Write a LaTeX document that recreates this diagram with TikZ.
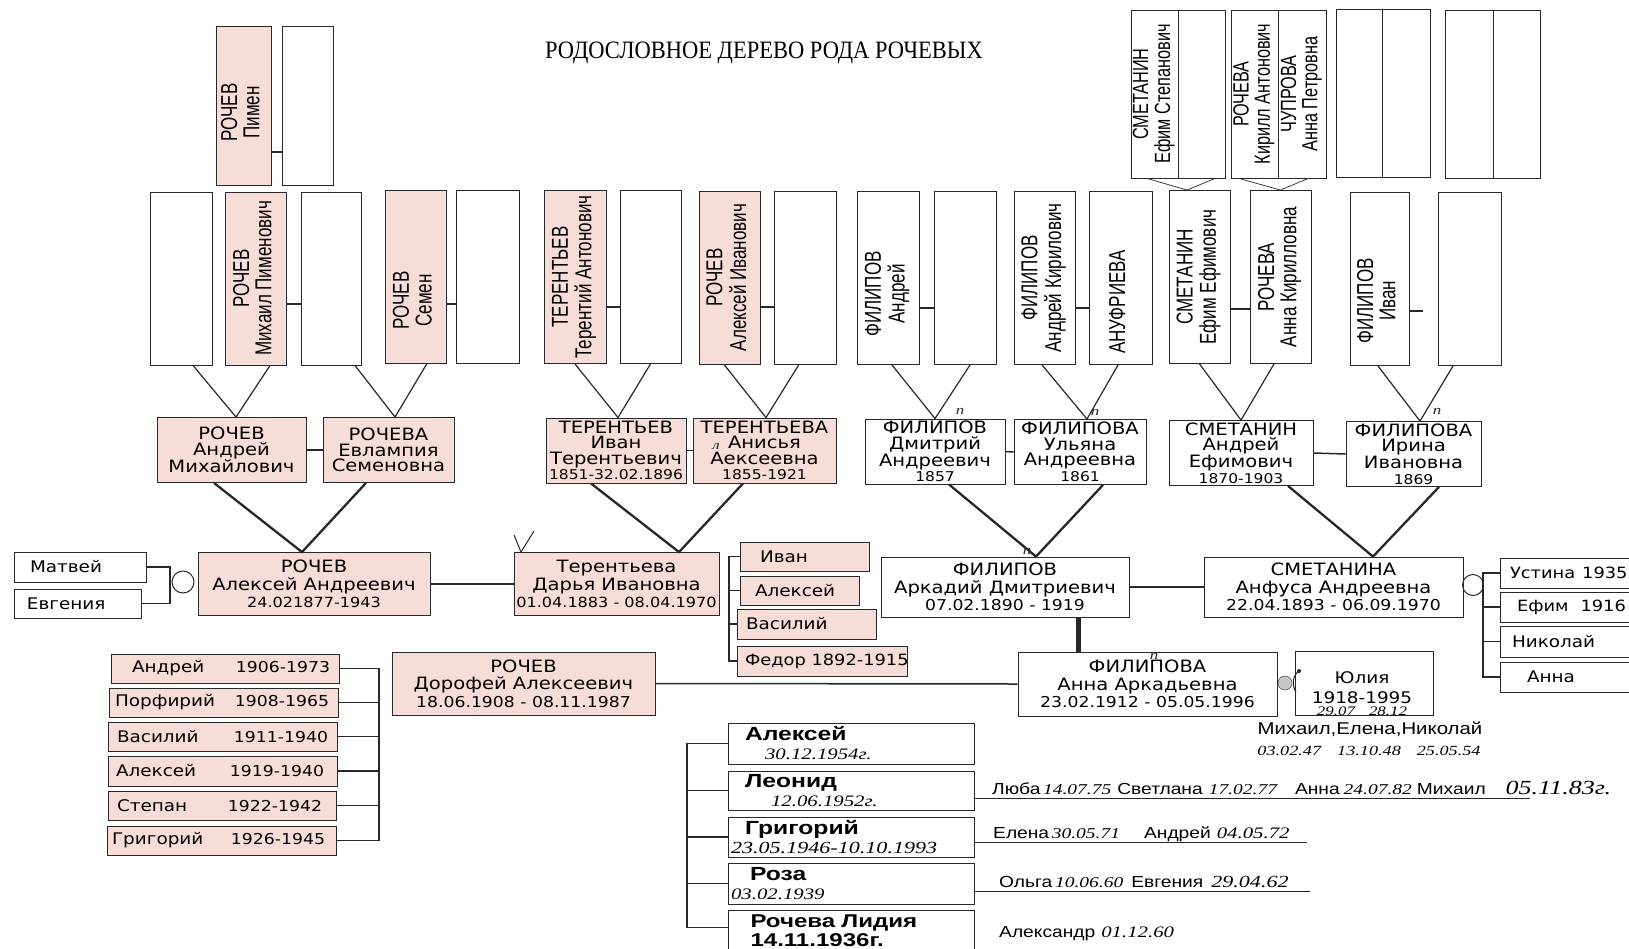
\documentclass[tikz,border=0pt]{standalone}
\usepackage{fontspec}
\usepackage{graphicx}
\usetikzlibrary{positioning,calc}
\setmainfont{DejaVu Sans}
\newfontfamily\verd[FakeStretch=1.15]{DejaVu Sans}
\newfontfamily\nar[FakeStretch=0.74]{Liberation Sans}
\newfontfamily\arl[FakeStretch=1.2]{Liberation Sans}
\newfontfamily\wideb[FakeStretch=1.3]{Liberation Sans}
\newfontfamily\hand[FakeStretch=1.3]{Liberation Serif}
\newfontfamily\titlef[FakeStretch=0.9]{Liberation Serif}
\definecolor{rosefill}{RGB}{247,221,215}
\definecolor{inkline}{RGB}{40,40,40}
\newcommand{\fsz}[2]{\fontsize{#1}{#2}\selectfont}
\newcommand{\vtext}[2][0pt]{\rotatebox{90}{\begin{tabular}{@{}c@{}}#2\end{tabular}\hspace*{#1}}}
\newcommand{\hw}[1]{{\hand\mdseries\itshape #1}}
\newcommand{\rowtext}[3]{\makebox[#1][l]{\hspace*{#2}#3}}

\begin{document}
\begin{tikzpicture}[x=1pt,y=-1pt,
  every node/.style={align=center,inner sep=0pt},
  cell/.style={draw=inkline,line width=0.9pt},
  rose/.style={fill=rosefill},
  tallbox/.style={cell,minimum height=173pt,font=\nar\fsz{23}{22}},
  topbox/.style={cell,minimum height=168pt,font=\nar\fsz{22}{20}},
  gen/.style={cell,minimum height=65pt,font=\verd\fsz{17}{15.5}},
  person/.style={cell,minimum height=63pt,font=\verd\fsz{17}{17.5}},
  kid/.style={cell,rose,font=\verd\fsz{16}{16}},
  grandkid/.style={cell,minimum width=246pt,text width=240pt,inner xsep=3pt,align=left,font=\wideb\bfseries\fsz{19}{19}},
  wire/.style={draw=inkline,line width=1.5pt},
  vee/.style={draw=inkline,line width=1.2pt},
  thinvee/.style={draw=inkline,line width=0.7pt},
  bigvee/.style={draw=inkline,line width=2.3pt},
  pencil/.style={font=\hand\itshape\fsz{13}{13},text=inkline}]

  \useasboundingbox (0,0) rectangle (1629,948);
  \fill[white] (0,0) rectangle (1629,948);
  \clip (0,0) rectangle (1629,948);

  \node[font=\titlef\fsz{25}{26}] (title) at (764,53) {РОДОСЛОВНОЕ ДЕРЕВО РОДА РОЧЕВЫХ};

  % первое колено
  \node[tallbox,rose,minimum width=55pt,minimum height=159pt] (pimen) at (243.5,105.5) {\vtext[14pt]{РОЧЕВ\\Пимен}};
  \node[tallbox,minimum width=51pt,minimum height=159pt] (pimenw) at (307.5,105.5) {};
  \node[topbox,minimum width=47pt] (t1a) at (1154.5,94) {\vtext{СМЕТАНИН\\Ефим Степанович}};
  \node[topbox,minimum width=47pt] (t1b) at (1201.5,94) {};
  \node[topbox,minimum width=47pt] (t2a) at (1254.5,94) {\vtext{РОЧЕВА\\Кирилл Антонович}};
  \node[topbox,minimum width=48pt] (t2b) at (1302,94) {\vtext{ЧУПРОВА\\Анна Петровна}};
  \node[topbox,minimum width=46pt] (t3a) at (1359,93) {};
  \node[topbox,minimum width=48pt] (t3b) at (1406,93) {};
  \node[topbox,minimum width=48pt] (t4a) at (1469,94) {};
  \node[topbox,minimum width=47pt] (t4b) at (1516.5,94) {};

  % второе колено
  \node[tallbox,minimum width=62pt] (g1) at (181,278.5) {};
  \node[tallbox,rose,minimum width=61pt] (g2) at (255.5,278.5) {\vtext{РОЧЕВ\\Михаил Пименович}};
  \node[tallbox,minimum width=60pt] (g3) at (331,278.5) {};
  \node[tallbox,rose,minimum width=61pt] (g4) at (415.5,276.5) {\vtext[48pt]{РОЧЕВ\\Семен}};
  \node[tallbox,minimum width=63pt] (g5) at (487.5,276.5) {};
  \node[tallbox,rose,minimum width=62pt] (g6) at (575,277) {\vtext{ТЕРЕНТЬЕВ\\Терентий Антонович}};
  \node[tallbox,minimum width=61pt] (g7) at (650.5,277) {};
  \node[tallbox,rose,minimum width=61pt] (g8) at (729.5,277.5) {\vtext{РОЧЕВ\\Алексей Иванович}};
  \node[tallbox,minimum width=62pt] (g9) at (805,277.5) {};
  \node[tallbox,minimum width=62pt] (g10) at (888,278) {\vtext[32pt]{ФИЛИПОВ\\Андрей}};
  \node[tallbox,minimum width=62pt] (g11) at (965,278) {};
  \node[tallbox,minimum width=61pt] (g12) at (1044.5,278) {\vtext{ФИЛИПОВ\\Андрей Кирилович}};
  \node[tallbox,minimum width=63pt] (g13) at (1120.5,278) {\vtext[48pt]{АНУФРИЕВА}};
  \node[tallbox,minimum width=61pt] (g14) at (1199.5,277) {\vtext{СМЕТАНИН\\Ефим Ефимович}};
  \node[tallbox,minimum width=61pt] (g15) at (1280.5,277) {\vtext{РОЧЕВА\\Анна Кирилловна}};
  \node[tallbox,minimum width=59pt] (g16) at (1379.5,279) {\vtext[44pt]{ФИЛИПОВ\\Иван}};
  \node[tallbox,minimum width=63pt] (g17) at (1469.5,279) {};
  \coordinate (g16end) at (1423,311);

  % третье колено
  \node[gen,rose,minimum width=149pt] (h1) at (231.5,450) {РОЧЕВ\\Андрей\\Михайлович};
  \node[gen,rose,minimum width=131pt] (h2) at (388.5,450) {РОЧЕВА\\Евлампия\\Семеновна};
  \node[gen,rose,minimum width=140pt] (h3) at (616,450.5) {ТЕРЕНТЬЕВ\\Иван\\Терентьевич\\{\fsz{13.5}{13.5}1851-32.02.1896}};
  \node[gen,rose,minimum width=143pt] (h4) at (764.5,450.5) {ТЕРЕНТЬЕВА\\Анисья\\Аексеевна\\{\fsz{13.5}{13.5}1855-1921}};
  \node[gen,minimum width=140pt] (h5) at (935,451.5) {ФИЛИПОВ\\Дмитрий\\Андреевич\\{\fsz{13.5}{13.5}1857}};
  \node[gen,minimum width=132pt] (h6) at (1080,452) {ФИЛИПОВА\\Ульяна\\Андреевна\\{\fsz{13.5}{13.5}1861}};
  \node[gen,minimum width=144pt] (h7) at (1241,453) {СМЕТАНИН\\Андрей\\Ефимович\\{\fsz{13.5}{13.5}1870-1903}};
  \node[gen,minimum width=135pt] (h8) at (1413.5,454) {ФИЛИПОВА\\Ирина\\Ивановна\\{\fsz{13.5}{13.5}1869}};

  % четвертое колено
  \node[person,rose,minimum width=232pt] (k1) at (314,584) {РОЧЕВ\\Алексей Андреевич\\{\fsz{14}{14}24.021877-1943}};
  \node[person,rose,minimum width=205pt] (k2) at (616.5,584) {Терентьева\\Дарья Ивановна\\{\fsz{14}{14}01.04.1883 - 08.04.1970}};
  \node[person,minimum width=248pt,minimum height=60pt] (k3) at (1005,587) {ФИЛИПОВ\\Аркадий Дмитриевич\\{\fsz{15}{15}07.02.1890 - 1919}};
  \node[person,minimum width=259pt,minimum height=60pt] (k4) at (1333.5,587) {СМЕТАНИНА\\Анфуса Андреевна\\{\fsz{15}{15}22.04.1893 - 06.09.1970}};

  \node[kid,fill=white,minimum width=132pt,minimum height=30pt] (m1) at (80,567) {\rowtext{122pt}{11pt}{Матвей}};
  \node[kid,fill=white,minimum width=127pt,minimum height=29pt] (m2) at (77.5,603.5) {\rowtext{117pt}{8pt}{Евгения}};
  \node[draw=inkline,line width=1pt,circle,minimum size=22pt] (o1) at (183,582) {};
  \coordinate (mbar) at (170,582);

  \node[kid,minimum width=129pt,minimum height=29pt] (c1) at (804.5,556.5) {\rowtext{119pt}{15pt}{Иван}};
  \node[kid,minimum width=119pt,minimum height=29pt] (c2) at (799.5,590.5) {\rowtext{109pt}{10pt}{Алексей}};
  \node[kid,minimum width=139pt,minimum height=30pt] (c3) at (806.5,624) {\rowtext{129pt}{4pt}{Василий}};
  \node[kid,minimum width=170pt,minimum height=30pt] (c4) at (822,661) {\rowtext{162pt}{4pt}{\fsz{15.5}{15.5}Федор 1892-1915}};
  \coordinate (dbar) at (729,610);

  \node[kid,fill=white,minimum width=160pt,minimum height=30pt,font=\verd\fsz{15.5}{15.5}] (u1) at (1580,573) {\rowtext{150pt}{5pt}{Устина\hspace{7pt}1935}};
  \node[kid,fill=white,minimum width=160pt,minimum height=30pt,font=\verd\fsz{15.5}{15.5}] (u2) at (1580,607) {\rowtext{150pt}{12pt}{Ефим\hspace{12pt}1916}};
  \node[kid,fill=white,minimum width=160pt,minimum height=31pt] (u3) at (1580,641.5) {\rowtext{150pt}{7pt}{Николай}};
  \node[kid,fill=white,minimum width=160pt,minimum height=30pt] (u4) at (1580,677) {\rowtext{150pt}{22pt}{Анна}};
  \node[draw=inkline,line width=1pt,circle,minimum size=21pt] (o2) at (1473,585) {};
  \coordinate (abar) at (1483,620);

  % пятое колено
  \node[person,rose,minimum width=263pt] (d1) at (523.5,683.5) {РОЧЕВ\\Дорофей Алексеевич\\{\fsz{15}{15}18.06.1908 - 08.11.1987}};
  \node[person,minimum width=259pt,minimum height=64pt] (a1) at (1147.5,684) {ФИЛИПОВА\\Анна Аркадьевна\\{\fsz{15}{15}23.02.1912 - 05.05.1996}};
  \node[cell,minimum width=138pt,minimum height=64pt] (j1) at (1364,683) {};
  \node[font=\verd\fsz{16}{20}] (j1t) at (1362,688) {Юлия\\1918-1995};
  \node[font=\fsz{13}{13}] (j1d) at (1362,711) {\hw{29.07\hspace{14pt}28.12}};
  \node[draw=inkline,fill=gray!45,circle,minimum size=14pt] (o3) at (1285,683) {};
  \coordinate (jdot) at (1299,671);
  \node[font=\arl\fsz{17}{17}] (mnames) at (1370,729) {Михаил,Елена,Николай};
  \node[font=\fsz{14}{14}] (mdates) at (1369,751) {\hw{03.02.47\hspace{16pt}13.10.48\hspace{16pt}25.05.54}};

  \node[kid,minimum width=228pt,minimum height=29pt] (b1) at (225,668.5) {\rowtext{218pt}{16pt}{Андрей\hfill{\fsz{15}{15}1906-1973}\hspace*{4pt}}};
  \node[kid,minimum width=229pt,minimum height=29pt] (b2) at (223.5,702.5) {\rowtext{219pt}{1pt}{Порфирий\hfill{\fsz{15}{15}1908-1965}\hspace*{4pt}}};
  \node[kid,minimum width=229pt,minimum height=29pt] (b3) at (222.5,736.5) {\rowtext{219pt}{4pt}{Василий\hfill{\fsz{15}{15}1911-1940}\hspace*{4pt}}};
  \node[kid,minimum width=229pt,minimum height=30pt] (b4) at (222.5,771) {\rowtext{219pt}{3pt}{Алексей\hfill{\fsz{15}{15}1919-1940}\hspace*{8pt}}};
  \node[kid,minimum width=228pt,minimum height=29pt] (b5) at (222,805.5) {\rowtext{218pt}{4pt}{Степан\hfill{\fsz{15}{15}1922-1942}\hspace*{9pt}}};
  \node[kid,minimum width=229pt,minimum height=29pt] (b6) at (221.5,840.5) {\rowtext{219pt}{0pt}{Григорий\hfill{\fsz{15}{15}1926-1945}\hspace*{6pt}}};
  \coordinate (lbar) at (379,750);

  % шестое колено
  \node[grandkid,minimum height=41pt] (e1) at (851,743.5) {\hspace*{14pt}Алексей\\\hspace*{34pt}\hw{\fsz{16}{18}30.12.1954г.}};
  \node[grandkid,minimum height=39pt] (e2) at (851,790.5) {\hspace*{14pt}Леонид\\\hspace*{40pt}\hw{\fsz{16}{18}12.06.1952г.}};
  \node[grandkid,minimum height=40pt] (e3) at (851,837) {\hspace*{14pt}Григорий\\\hw{\fsz{17}{18}23.05.1946-10.10.1993}};
  \node[grandkid,minimum height=41pt] (e4) at (851,883.5) {\hspace*{19pt}Роза\\\hw{\fsz{16}{18}03.02.1939}};
  \node[grandkid,minimum height=40pt,font=\wideb\bfseries\fsz{18.5}{18.5}] (e5) at (851.5,930.5) {\hspace*{19pt}Рочева Лидия\\\hspace*{19pt}14.11.1936г.};
  \coordinate (ebar) at (687,835);
  \coordinate (e2end) at (1530,798);
  \coordinate (e3end) at (1307,842);
  \coordinate (e4end) at (1310,891);

  \node[anchor=base west,font=\arl\fsz{16}{16}] (r2) at (992,794) {Люба\,{\fsz{15}{15}\hw{14.07.75}}\hspace{6pt}Светлана\hspace{6pt}{\fsz{15}{15}\hw{17.02.77}}\hspace{18pt}Анна\hspace{4pt}{\fsz{15}{15}\hw{24.07.82}}\hspace{5pt}Михаил\hspace{20pt}{\fsz{20}{20}\hw{05.11.83г.}}};
  \node[anchor=base west,font=\arl\fsz{16}{16}] (r3) at (993,838) {Елена\,{\fsz{15}{15}\hw{30.05.71}}\hspace{24pt}Андрей\hspace{6pt}{\fsz{16}{16}\hw{04.05.72}}};
  \node[anchor=base west,font=\arl\fsz{16}{16}] (r4) at (999,887) {Ольга\,{\fsz{15}{15}\hw{10.06.60}}\hspace{8pt}Евгения\hspace{8pt}{\fsz{17}{17}\hw{29.04.62}}};
  \node[anchor=base west,font=\arl\fsz{16}{16}] (r5) at (999,937) {Александр\hspace{6pt}{\fsz{16}{16}\hw{01.12.60}}};

  % карандашные пометки
  \node[pencil] (pm1) at (960,411) {п};
  \node[pencil] (pm2) at (1095,412) {п};
  \node[pencil] (pm3) at (1437,411) {п};
  \node[pencil] (pm4) at (1027,551) {п};
  \node[pencil] (pm5) at (1154,656) {п};
  \node[pencil] (pm6) at (716,446) {л};
  \draw[inkline,line width=1pt] (514,535) -- (521,552) -- (534,531);

  % связи супругов
  \draw[wire] ([yshift=-46.5pt]pimen.east) -- ([yshift=-46.5pt]pimenw.west);
  \draw[wire] ([yshift=-25.5pt]g2.east) -- ([yshift=-25.5pt]g3.west);
  \draw[wire] ([yshift=-27.5pt]g4.east) -- ([yshift=-27.5pt]g5.west);
  \draw[wire] ([yshift=-30pt]g6.east) -- ([yshift=-30pt]g7.west);
  \draw[wire] ([yshift=-29.5pt]g8.east) -- ([yshift=-29.5pt]g9.west);
  \draw[wire] ([yshift=-30pt]g10.east) -- ([yshift=-30pt]g11.west);
  \draw[wire] ([yshift=-30pt]g12.east) -- ([yshift=-30pt]g13.west);
  \draw[wire] ([yshift=-32pt]g14.east) -- ([yshift=-32pt]g15.west);
  \draw[wire] ([yshift=-32pt]g16.east) -- (g16end);
  \draw[wire] (h1.east) -- (h2.west);
  \draw[wire] (h3.east) -- (h4.west);
  \draw[wire] (h5.east) -- (h6.west);
  \draw[wire] (h7.east) -- (h8.west);
  \draw[wire] (k1.east) -- (k2.west);
  \draw[wire] (k3.east) -- (k4.west);
  \draw[wire] (d1.east) -- (a1.west);

  % родители - дети
  \draw[thinvee] ([xshift=-7.5pt]t1a.south) -- ([xshift=-12.5pt]g14.north) -- ([xshift=13.5pt]t1b.south);
  \draw[thinvee] ([xshift=-15.5pt]t2a.south) -- (g15.north) -- ([xshift=6pt]t2b.south);
  \draw[vee] ([xshift=12pt]g1.south) -- ([xshift=4.5pt]h1.north) -- ([xshift=14.5pt]g2.south);
  \draw[vee] ([xshift=24pt]g3.south) -- ([xshift=6.5pt]h2.north) -- ([xshift=11.5pt]g4.south);
  \draw[vee] (g6.south) -- ([xshift=2pt]h3.north) -- (g7.south);
  \draw[vee] ([xshift=-5.5pt]g8.south) -- ([xshift=1.5pt]h4.north) -- ([xshift=-6pt]g9.south);
  \draw[vee] ([xshift=4pt]g10.south) -- (h5.north) -- ([xshift=5pt]g11.south);
  \draw[vee] ([xshift=-2.5pt]g12.south) -- ([xshift=7pt]h6.north) -- ([xshift=-2.5pt]g13.south);
  \draw[vee] (g14.south) -- (h7.north) -- ([xshift=-6.5pt]g15.south);
  \draw[vee] ([xshift=-1.5pt]g16.south) -- ([xshift=6.5pt]h8.north) -- ([xshift=-16.5pt]g17.south);
  \draw[bigvee] ([xshift=-17.5pt]h1.south) -- ([xshift=-12pt]k1.north) -- ([xshift=-22.5pt]h2.south);
  \draw[bigvee] ([xshift=-25pt]h3.south) -- ([xshift=62.5pt]k2.north) -- ([xshift=-21.5pt]h4.south);
  \draw[bigvee] ([xshift=14pt]h5.south) -- ([xshift=31pt]k3.north) -- ([xshift=23pt]h6.south);
  \draw[bigvee] ([xshift=47pt]h7.south) -- ([xshift=39.5pt]k4.north) -- ([xshift=25.5pt]h8.south);
  \draw[draw=inkline,line width=5pt] ([xshift=73pt]k3.south) -- ([xshift=-69.5pt]a1.north);

  % скобки детей
  \draw[wire,line width=1.2pt] (m1.east) -| (mbar) |- (m2.east);
  \draw[wire,line width=1.2pt] (c1.west) -| (dbar) |- (c4.west);
  \draw[wire,line width=1.2pt] (c2.west) -- (c2.west -| dbar);
  \draw[wire,line width=1.2pt] (c3.west) -- (c3.west -| dbar);
  \draw[wire,line width=1.2pt] (u1.west) -| (abar) |- (u4.west);
  \draw[wire,line width=1.2pt] (u2.west) -- (u2.west -| abar);
  \draw[wire,line width=1.2pt] (u3.west) -- (u3.west -| abar);
  \draw[wire] (b1.east) -| (lbar) |- (b6.east);
  \draw[wire] (b2.east) -- (b2.east -| lbar);
  \draw[wire] (b3.east) -- (b3.east -| lbar);
  \draw[wire] (b4.east) -- (b4.east -| lbar);
  \draw[wire] (b5.east) -- (b5.east -| lbar);
  \draw[wire,line width=1.8pt] (e1.west) -| (ebar) |- ([yshift=3pt]e5.west);
  \draw[wire,line width=1.8pt] (e2.west) -- (e2.west -| ebar);
  \draw[wire,line width=1.8pt] (e3.west) -- (e3.west -| ebar);
  \draw[wire,line width=1.8pt] (e4.west) -- (e4.west -| ebar);
  \draw[wire,line width=1pt] ([yshift=-7.5pt]e2.east) -- (e2end);
  \draw[wire,line width=1pt] ([yshift=-5pt]e3.east) -- (e3end);
  \draw[wire,line width=1pt] ([yshift=-7.5pt]e4.east) -- (e4end);
  \fill[inkline] (jdot) circle (2pt);
  \draw[inkline,line width=1pt] (jdot) .. controls (1292,676) and (1292,686) .. (1296,692);

\end{tikzpicture}
\end{document}
